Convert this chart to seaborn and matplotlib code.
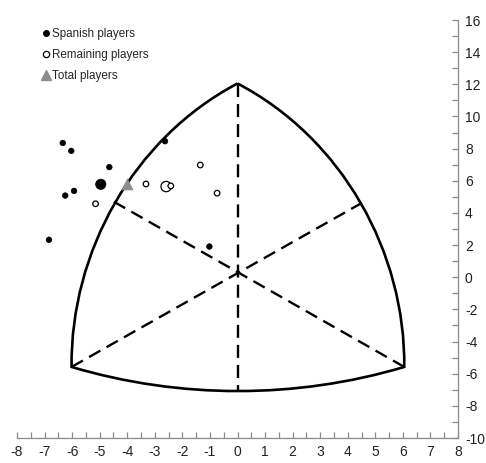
import numpy as np
import pandas as pd
import matplotlib
matplotlib.use("Agg")
import matplotlib.pyplot as plt
from matplotlib.lines import Line2D
from matplotlib.path import Path
from matplotlib.patches import PathPatch
from matplotlib.ticker import MultipleLocator
import seaborn as sns

# =========================
# DATA
# =========================
# triangle vertices
top_vertex = (0.0, 12.05)
left_vertex = (-6.02, -5.58)
right_vertex = (6.05, -5.58)

# bezier handles of the three curved sides (left, bottom, right)
left_side_ctrl = [(-3.78, 8.64), (-6.06, 1.55)]
bottom_side_ctrl = [(-2.08, -7.58), (2.12, -7.58)]
right_side_ctrl = [(6.09, 1.55), (3.80, 8.64)]

# dashed lines: vertex -> opposite side
dash_x = [[0.0, 0.0], [-6.02, 4.51], [6.05, -4.50]]
dash_y = [[12.05, -7.07], [-5.58, 4.62], [-5.58, 4.71]]

spanish_x = [-6.34, -6.03, -4.65, -4.96, -5.93, -6.25, -6.84, -2.63, -1.02]
spanish_y = [8.35, 7.86, 6.85, 5.78, 5.37, 5.08, 2.33, 8.46, 1.91]
spanish_w = [1, 1, 1, 2, 1, 1, 1, 1, 1]

remaining_x = [-5.15, -3.32, -2.59, -2.42, -1.35, -0.74]
remaining_y = [4.57, 5.80, 5.64, 5.68, 6.98, 5.23]
remaining_w = [1, 1, 2, 1, 1, 1]

total_x = [-4.02]
total_y = [5.80]

x_ticks = list(range(-8, 9))
y_ticks = list(range(-10, 17, 2))

# =========================
# PLOT
# =========================
sns.set_style("white")
plt.rcParams['font.family'] = ['Liberation Sans', 'DejaVu Sans']
plt.rcParams['axes.unicode_minus'] = False

fig = plt.figure(figsize=(4.86, 4.63), dpi=100)
ax = fig.add_axes([17 / 486, 25 / 463, 441 / 486, 418 / 463])

# curved triangle outline
verts = [top_vertex, *left_side_ctrl, left_vertex,
         *bottom_side_ctrl, right_vertex,
         *right_side_ctrl, top_vertex]
codes = [Path.MOVETO] + [Path.CURVE4] * 9
ax.add_patch(PathPatch(Path(verts, codes), facecolor="none", edgecolor="black",
                       linewidth=1.9, joinstyle="miter", zorder=3))

for lx, ly in zip(dash_x, dash_y):
    sns.lineplot(x=lx, y=ly, color="black", linewidth=1.7, sort=False,
                 estimator=None, ax=ax, linestyle=(0, (5.5, 3.0)))

sp = pd.DataFrame({"x": spanish_x, "y": spanish_y, "w": spanish_w})
sns.scatterplot(data=sp, x="x", y="y", size="w", sizes=(16, 55), color="black",
                edgecolor="black", linewidth=0.5, legend=False, ax=ax, zorder=5)

rm = pd.DataFrame({"x": remaining_x, "y": remaining_y, "w": remaining_w})
sns.scatterplot(data=rm, x="x", y="y", size="w", sizes=(16, 55), facecolor="white",
                edgecolor="black", linewidth=0.9, legend=False, ax=ax, zorder=5)

sns.scatterplot(x=total_x, y=total_y, marker="^", s=60, color="#8c8c8c",
                edgecolor="#8c8c8c", legend=False, ax=ax, zorder=6)

ax.set_xlim(-8, 8)
ax.set_ylim(-10, 16)
ax.set_xlabel("")
ax.set_ylabel("")

for s in ["top", "left"]:
    ax.spines[s].set_visible(False)
for s in ["bottom", "right"]:
    ax.spines[s].set_color("#8a8a8a")
    ax.spines[s].set_linewidth(0.9)

ax.yaxis.tick_right()
ax.set_xticks(x_ticks)
ax.set_yticks(y_ticks)
ax.xaxis.set_minor_locator(MultipleLocator(0.5))
ax.yaxis.set_minor_locator(MultipleLocator(1))
ax.tick_params(axis="both", which="both", direction="in", length=4, width=0.9,
               color="#8a8a8a", labelsize=10, labelcolor="#222222")
ax.tick_params(axis="x", which="both", bottom=True, top=False, pad=5)
ax.tick_params(axis="y", which="both", right=True, left=False, pad=5)

handles = [
    Line2D([], [], marker="o", linestyle="none", markersize=4, color="black"),
    Line2D([], [], marker="o", linestyle="none", markersize=4.5, markerfacecolor="white",
           markeredgecolor="black", markeredgewidth=0.9),
    Line2D([], [], marker="^", linestyle="none", markersize=7, color="#8c8c8c"),
]
ax.legend(handles, ["Spanish players", "Remaining players", "Total players"],
          loc="upper left", bbox_to_anchor=(0.04, 1.0), frameon=False,
          fontsize=8.4, handlelength=0.6, handletextpad=0.2, labelspacing=0.78,
          borderaxespad=0.3)

fig.savefig("out.png", dpi=100)
plt.close(fig)
